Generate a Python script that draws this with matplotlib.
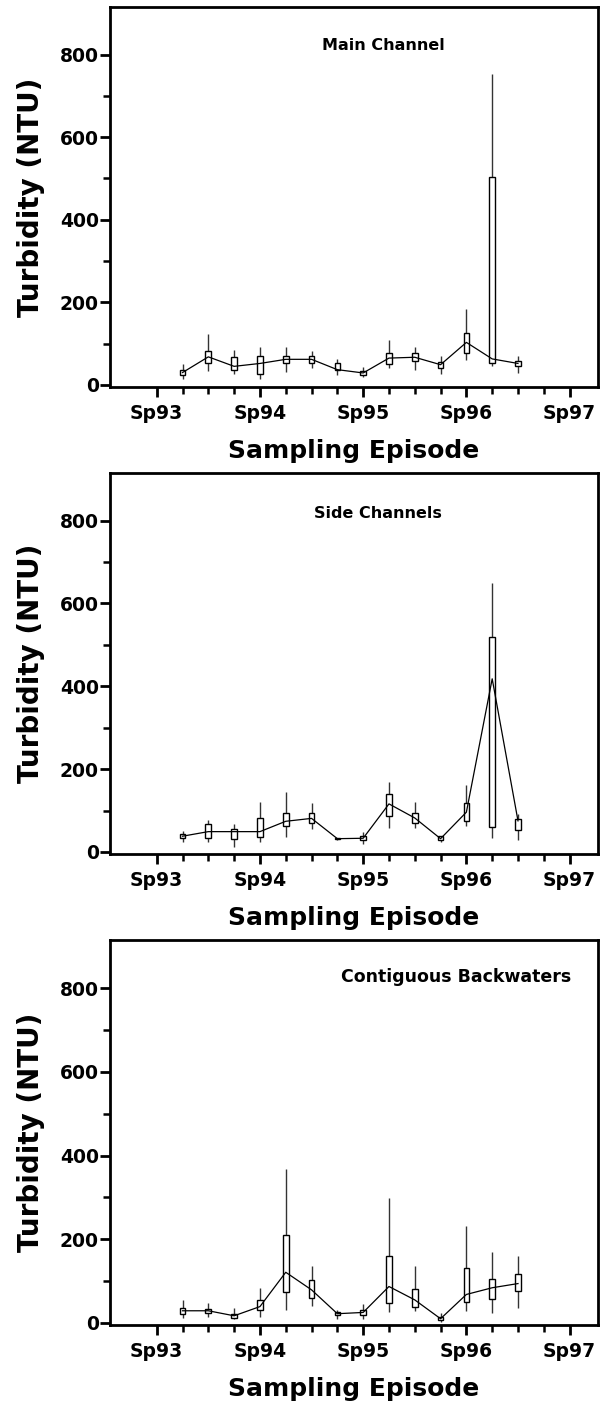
import matplotlib
matplotlib.use("Agg")
import matplotlib.pyplot as plt
import numpy as np

plt.rcParams['font.family'] = ['DejaVu Sans']
plt.rcParams['font.weight'] = 'bold'

# sampling episodes (quarters after Sp93)
episode = np.arange(1, 15)
tick_labels = ['Sp93', 'Sp94', 'Sp95', 'Sp96', 'Sp97']
panel_titles = ['Main Channel', 'Side Channels', 'Contiguous Backwaters']

# Main Channel
main_mid = [30, 68, 45, 52, 62, 62, 37, 29, 65, 67, 49, 103, 63, 52]
main_q1 = [25, 53, 35, 27, 53, 53, 36, 25, 51, 58, 41, 77, 53, 45]
main_q3 = [37, 83, 68, 70, 70, 70, 52, 34, 77, 78, 56, 125, 503, 59]
main_lo = [15, 33, 27, 15, 32, 42, 23, 20, 40, 36, 26, 60, 45, 29]
main_hi = [51, 124, 85, 92, 93, 83, 62, 43, 110, 93, 70, 185, 754, 71]

# Side Channels
side_mid = [38, 49, 49, 49, 74, 81, 32, 33, 116, 82, 32, 96, 418, 75]
side_q1 = [33, 34, 32, 36, 62, 71, 31, 28, 86, 70, 28, 75, 60, 52]
side_q3 = [43, 67, 56, 82, 95, 94, 33, 39, 141, 95, 38, 118, 518, 79]
side_lo = [23, 23, 12, 23, 36, 55, 30, 20, 58, 58, 23, 63, 34, 28]
side_hi = [51, 78, 68, 120, 144, 118, 34, 48, 170, 120, 38, 162, 650, 91]

# Contiguous Backwaters
back_mid = [29, 29, 17, 39, 121, 79, 22, 25, 87, 55, 10, 68, 84, 94]
back_q1 = [22, 23, 12, 31, 74, 60, 18, 19, 47, 39, 6, 51, 57, 77]
back_q3 = [35, 34, 21, 54, 210, 102, 25, 31, 161, 81, 15, 131, 106, 116]
back_lo = [12, 15, 9, 15, 31, 40, 9, 10, 26, 29, 2, 29, 23, 35]
back_hi = [55, 48, 35, 83, 368, 136, 31, 44, 299, 136, 23, 232, 170, 160]

panels = [
    (main_mid, main_q1, main_q3, main_lo, main_hi),
    (side_mid, side_q1, side_q3, side_lo, side_hi),
    (back_mid, back_q1, back_q3, back_lo, back_hi),
]

# axes rectangles in pixels: top, bottom
px_rows = [(7, 387), (473, 854), (940, 1325)]
title_pos = [(0.56, 0.90), (0.55, 0.895), (0.71, 0.905)]
title_size = [11.5, 11.5, 12.5]

fig = plt.figure(figsize=(6, 14.14), dpi=100)
H = 1414.0

for k, (mid, q1, q3, lo, hi) in enumerate(panels):
    top, bot = px_rows[k]
    ax = fig.add_axes([110 / 600, 1 - bot / H, 488 / 600, (bot - top) / H])
    q1 = np.array(q1)
    q3 = np.array(q3)
    ax.vlines(episode, lo, hi, color='#333333', lw=1.0, zorder=1)
    ax.bar(episode, q3 - q1, bottom=q1, width=0.22, facecolor='white',
           edgecolor='black', linewidth=1.0, zorder=2)
    ax.plot(episode, mid, color='black', lw=0.9, zorder=3)

    ax.set_xlim(-1.81, 17.1)
    ax.set_ylim(-5, 915)
    ax.set_xticks([0, 4, 8, 12, 16])
    ax.set_xticklabels(tick_labels)
    ax.set_xticks(np.arange(0, 17), minor=True)
    ax.set_yticks([0, 200, 400, 600, 800])
    ax.set_yticks([100, 300, 500, 700], minor=True)
    ax.tick_params(which='major', direction='out', length=7, width=2,
                   labelsize=13.5, pad=1)
    ax.tick_params(axis='x', which='major', pad=5)
    ax.tick_params(which='minor', direction='out', length=5, width=1.8)
    for s in ax.spines.values():
        s.set_linewidth(2)
    ax.set_ylabel('Turbidity (NTU)', fontsize=20, fontweight='bold', labelpad=11)
    ax.set_xlabel('Sampling Episode', fontsize=18, fontweight='bold', labelpad=12)
    ax.text(title_pos[k][0], title_pos[k][1], panel_titles[k],
            transform=ax.transAxes, ha='center', va='center',
            fontsize=title_size[k], fontweight='bold')

fig.savefig('out.png', dpi=100)
